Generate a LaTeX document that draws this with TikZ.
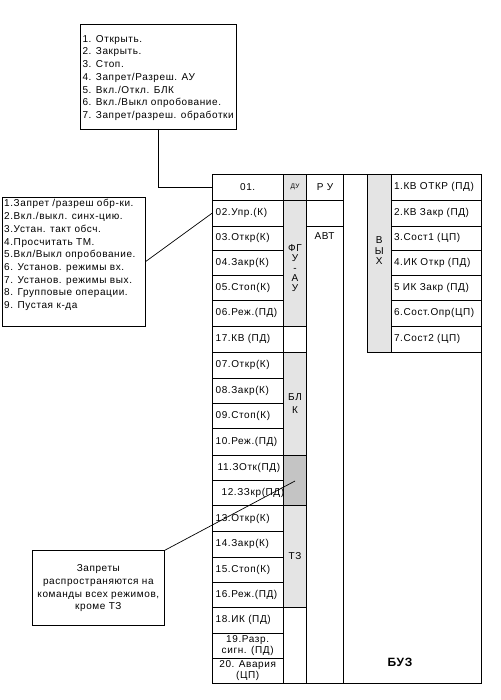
\documentclass[tikz,border=0pt]{standalone}
\usepackage{fontspec}
\setmainfont{Liberation Sans}[LetterSpace=6]
\definecolor{lgray}{RGB}{228,228,228}
\definecolor{dgray}{RGB}{196,196,196}
\newcommand\bx[7]{%
  \pgfmathsetmacro\bxh{#5-#4}%
  \node[box,minimum width=#3pt,minimum height=\bxh pt,#6] (#1) at (#2,#4) {#7};}
\begin{document}
\begin{tikzpicture}[x=1pt,y=-1pt,
  font=\fontsize{10}{12.7}\selectfont,
  box/.style={draw,line width=0.8pt,anchor=north west,inner sep=0pt,outer sep=0pt},
  lt/.style={text width=64pt,align=left},
  ot/.style={text width=84pt,align=left},
  gr/.style={fill=lgray},
  dg/.style={fill=dgray},
  ln/.style={anchor=base west,inner sep=0pt},
  conn/.style={line width=0.7pt},
  two/.style={align=center,font=\fontsize{10}{11.5}\selectfont}]
\useasboundingbox (0,0) rectangle (500,700);

% top box
\bx{topbox}{80.7}{155.3}{24.7}{129}{}{}
\node[ln] (t1) at (82.3,42.3) {1. Открыть.};
\node[ln] (t2) at (82.3,55.0) {2. Закрыть.};
\node[ln] (t3) at (82.3,67.7) {3. Стоп.};
\node[ln] (t4) at (82.3,80.4) {4. Запрет/Разреш. АУ};
\node[ln] (t5) at (82.3,93.1) {5. Вкл./Откл. БЛК};
\node[ln] (t6) at (82.3,105.8) {6. Вкл./Выкл опробование.};
\node[ln] (t7) at (82.3,118.5) {7. Запрет/разреш. обработки};

% left box
\bx{leftbox}{2}{143.7}{197}{326}{}{}
\node[ln] (l1) at (4,207.0) {1.Запрет /разреш обр-ки.};
\node[ln] (l2) at (4,219.7) {2.Вкл./выкл. синх-цию.};
\node[ln] (l3) at (4,232.4) {3.Устан. такт обсч.};
\node[ln] (l4) at (4,245.1) {4.Просчитать ТМ.};
\node[ln] (l5) at (4,257.8) {5.Вкл/Выкл опробование.};
\node[ln] (l6) at (4,270.5) {6. Установ. режимы вх.};
\node[ln] (l7) at (4,283.2) {7. Установ. режимы вых.};
\node[ln] (l8) at (4,295.9) {8. Групповые операции.};
\node[ln] (l9) at (4,308.6) {9. Пустая к-да};

% note box
\bx{notebox}{32.7}{131.3}{550.7}{625.7}{align=center}{Запреты\\распространяются на\\команды всех режимов,\\кроме ТЗ}

% column 1
\bx{c01}{212}{71.3}{174}{200.5}{}{01.}
\bx{c02}{212}{71.3}{200.5}{226}{lt}{02.Упр.(К)}
\bx{c03}{212}{71.3}{226}{250.5}{lt}{03.Откр(К)}
\bx{c04}{212}{71.3}{250.5}{275}{lt}{04.Закр(К)}
\bx{c05}{212}{71.3}{275}{300.5}{lt}{05.Стоп(К)}
\bx{c06}{212}{71.3}{300.5}{326.3}{lt}{06.Реж.(ПД)}
\bx{c17}{212}{71.3}{326.3}{352.3}{lt}{17.КВ (ПД)}
\bx{c07}{212}{71.3}{352.3}{378}{lt}{07.Откр(К)}
\bx{c08}{212}{71.3}{378}{403}{lt}{08.Закр(К)}
\bx{c09}{212}{71.3}{403}{428.5}{lt}{09.Стоп(К)}
\bx{c10}{212}{71.3}{428.5}{455}{lt}{10.Реж.(ПД)}
\bx{c11}{212}{71.3}{455}{480}{lt}{\hspace*{2pt}11.ЗОтк(ПД)}
\bx{c12}{212}{71.3}{480}{505.5}{lt}{\hspace*{6pt}12.ЗЗкр(ПД)}
\bx{c13}{212}{71.3}{505.5}{531.5}{lt}{13.Откр(К)}
\bx{c14}{212}{71.3}{531.5}{557}{lt}{14.Закр(К)}
\bx{c15}{212}{71.3}{557}{582.7}{lt}{15.Стоп(К)}
\bx{c16}{212}{71.3}{582.7}{607.3}{lt}{16.Реж.(ПД)}
\bx{c18}{212}{71.3}{607.3}{633}{lt}{18.ИК (ПД)}
\bx{c19}{212}{71.3}{633}{658.5}{two}{19.Разр.\\сигн. (ПД)}
\bx{c20}{212}{71.3}{658.5}{683}{two}{20. Авария\\(ЦП)}

% column 2
\bx{du}{283.3}{23.4}{174}{200.5}{gr,font=\fontsize{6.5}{7}\selectfont}{ДУ}
\bx{fgu}{283.3}{23.4}{200.5}{326.3}{gr}{}
\bx{w17}{283.3}{23.4}{326.3}{352.3}{}{}
\bx{blk}{283.3}{23.4}{352.3}{455}{gr,align=center}{БЛ\\К}
\bx{dark}{283.3}{23.4}{455}{505.5}{dg}{}
\bx{tz}{283.3}{23.4}{505.5}{607.3}{gr}{ТЗ}
\bx{w18}{283.3}{23.4}{607.3}{683}{}{}
\node[align=center,inner sep=0pt,font=\fontsize{10}{10.2}\selectfont] (fgutxt) at (295,268) {ФГ\\У\\-\\А\\У};

% column 3
\bx{ru}{306.7}{36.6}{174}{200.5}{}{Р У}
\bx{ru2}{306.7}{36.6}{200.5}{226}{}{}
\bx{avt}{306.7}{36.6}{226}{683}{}{}
\node[inner sep=0pt] (avttxt) at (324.5,236) {АВТ};

% BUZ block
\bx{buz}{343.3}{137.7}{174}{683}{}{}
\bx{vyh}{367.3}{23.7}{174}{352.3}{gr}{}
\node[align=center,inner sep=0pt,font=\fontsize{10}{10.5}\selectfont] (vyhtxt) at (379.2,251) {В\\Ы\\Х};
\bx{o1}{391}{90}{174}{200.5}{ot}{1.КВ ОТКР (ПД)}
\bx{o2}{391}{90}{200.5}{226}{ot}{2.КВ Закр (ПД)}
\bx{o3}{391}{90}{226}{250.5}{ot}{3.Сост1 (ЦП)}
\bx{o4}{391}{90}{250.5}{275}{ot}{4.ИК Откр (ПД)}
\bx{o5}{391}{90}{275}{300.5}{ot}{5 ИК Закр (ПД)}
\bx{o6}{391}{90}{300.5}{326.3}{ot}{6.Сост.Опр(ЦП)}
\bx{o7}{391}{90}{326.3}{352.3}{ot}{7.Сост2 (ЦП)}
\node[inner sep=0pt,font=\fontsize{12}{14}\selectfont\bfseries] (buztxt) at (400,662) {БУЗ};

% connectors
\coordinate (zz) at (295,481);
\draw[conn] (topbox.south) |- (c01.west);
\draw[conn] (leftbox.east) -- (c02.west);
\draw[conn] (notebox.north east) -- (zz);
\end{tikzpicture}
\end{document}
